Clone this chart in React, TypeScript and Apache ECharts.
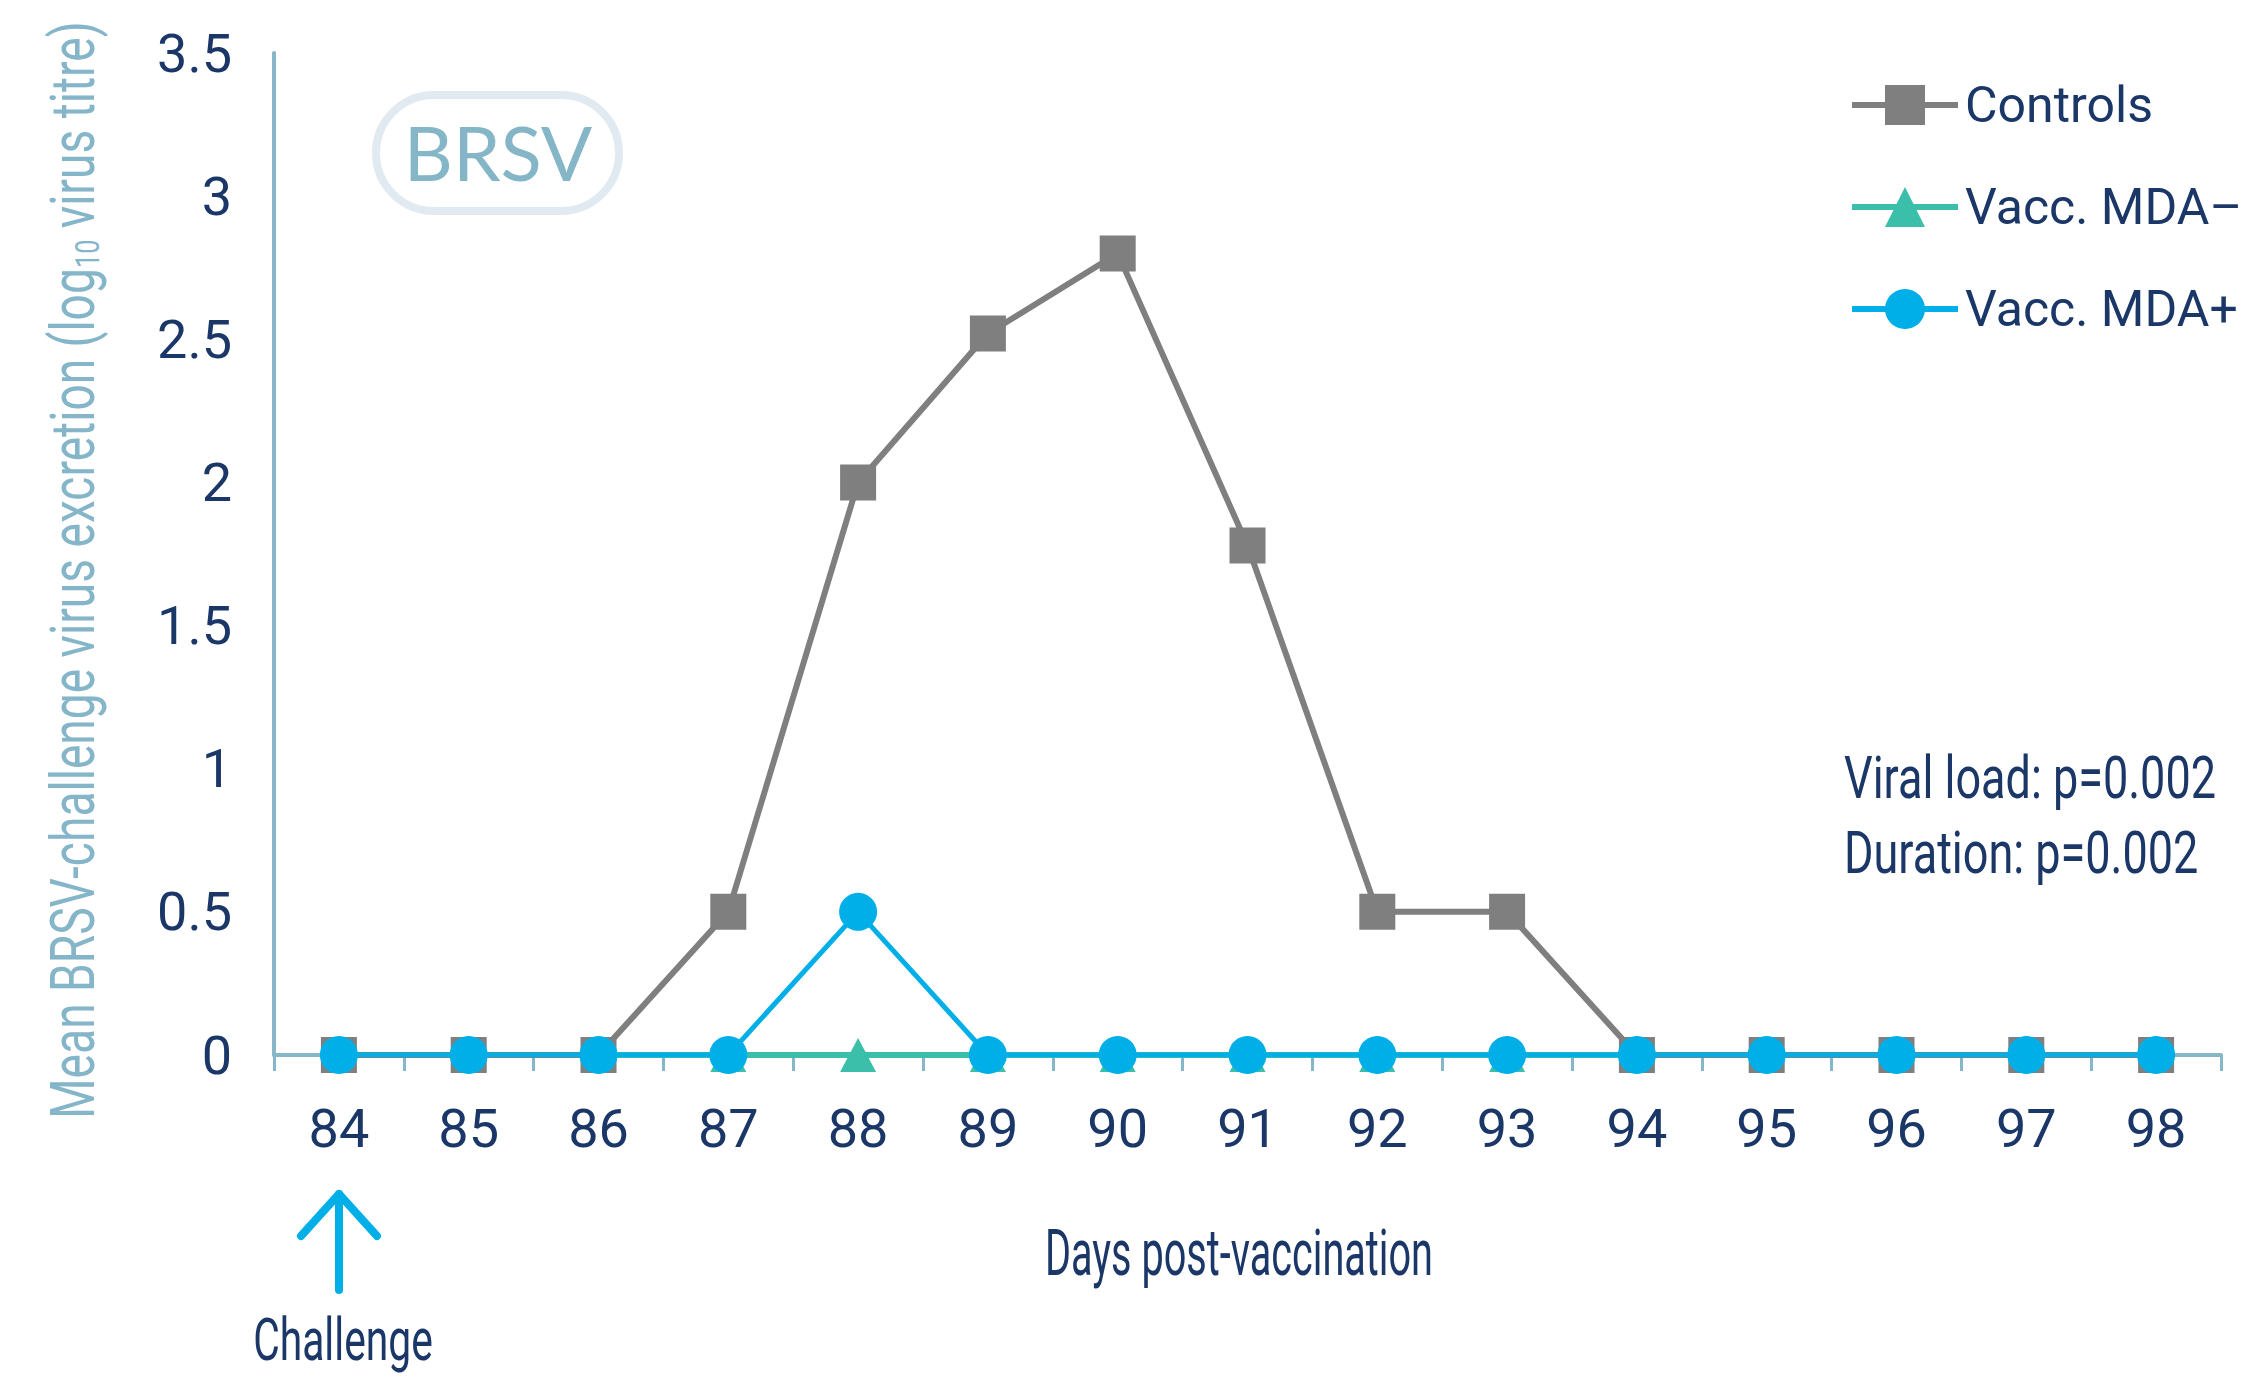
import React, { useEffect, useRef } from "react";
import * as echarts from "echarts";

const days = ["84", "85", "86", "87", "88", "89", "90", "91", "92", "93", "94", "95", "96", "97", "98"];
const controls = [0, 0, 0, 0.5, 2.0, 2.52, 2.8, 1.78, 0.5, 0.5, 0, 0, 0, 0, 0];
const mdaNeg = [0, 0, 0, 0, 0, 0, 0, 0, 0, 0, 0, 0, 0, 0, 0];
const mdaPos = [0, 0, 0, 0, 0.5, 0, 0, 0, 0, 0, 0, 0, 0, 0, 0];
const seriesNames = ["Controls", "Vacc. MDA\u2013", "Vacc. MDA+"];
const annotations = ["Viral load: p=0.002", "Duration: p=0.002"];
const yTitle = "Mean BRSV-challenge virus excretion (log{sub|10} virus titre)";
const xTitle = "Days post-vaccination";
const challengeLabel = "Challenge";
const panelLabel = "BRSV";

const F = "Roboto, 'Liberation Sans', sans-serif";
const NAVY = "#1b3768";
const AXIS = "#86b7c9";
const GREY = "#7f7f7f";
const GREEN = "#3bbfab";
const BLUE = "#00afe8";
const TITLE = "#84b5c8";

export default function App() {
  const ref = useRef<HTMLDivElement>(null);
  useEffect(() => {
    document.body.style.margin = "0";
    const chart = echarts.init(ref.current!, null, { renderer: "svg" });
    chart.setOption({
      animation: false,
      backgroundColor: "#ffffff",
      grid: { left: 274, right: 41, top: 53, bottom: 323, outerBoundsMode: "none", containLabel: false },
      legend: {
        orient: "vertical",
        left: 1844,
        top: 72,
        itemWidth: 106,
        itemHeight: 50,
        itemGap: 46,
        lineStyle: { width: 6 },
        textStyle: { fontFamily: F, fontSize: 50, lineHeight: 56, color: NAVY, padding: [0, 0, 0, 2] },
        data: seriesNames,
      },
      xAxis: {
        type: "category",
        data: days,
        boundaryGap: true,
        axisLine: { lineStyle: { color: AXIS, width: 4 } },
        axisTick: { show: true, length: 16, inside: false, lineStyle: { color: AXIS, width: 3 } },
        axisLabel: { fontFamily: F, fontSize: 54, color: NAVY, margin: 46 },
      },
      yAxis: {
        type: "value",
        min: 0,
        max: 3.5,
        interval: 0.5,
        splitLine: { show: false },
        axisLine: { show: true, lineStyle: { color: AXIS, width: 4 } },
        axisTick: { show: false },
        axisLabel: { fontFamily: F, fontSize: 54, color: NAVY, margin: 42 },
      },
      series: [
        {
          name: seriesNames[0],
          type: "line",
          data: controls,
          symbol: "rect",
          symbolSize: 36,
          itemStyle: { color: GREY },
          lineStyle: { color: GREY, width: 6 },
          z: 3,
        },
        {
          name: seriesNames[1],
          type: "line",
          data: mdaNeg,
          symbol: "triangle",
          symbolSize: [36, 34],
          itemStyle: { color: GREEN },
          lineStyle: { color: GREEN, width: 6 },
          z: 2,
        },
        {
          name: seriesNames[2],
          type: "line",
          data: mdaPos,
          symbol: "circle",
          symbolSize: 38,
          itemStyle: { color: BLUE },
          lineStyle: { color: BLUE, width: 5 },
          z: 4,
        },
      ],
      graphic: [
        {
          type: "text",
          x: 72,
          y: 570,
          rotation: Math.PI / 2,
          scaleX: 0.744,
          style: {
            text: yTitle,
            fontFamily: F,
            fontSize: 62,
            lineHeight: 64,
            fill: TITLE,
            align: "center",
            verticalAlign: "middle",
            rich: {
              sub: { fontFamily: F, fontSize: 34, lineHeight: 34, verticalAlign: "bottom", fill: TITLE },
            },
          },
        },
        {
          type: "text",
          x: 1239,
          y: 1253,
          scaleX: 0.62,
          style: { text: xTitle, fontFamily: F, fontSize: 64, fill: NAVY, align: "center", verticalAlign: "middle" },
        },
        {
          type: "rect",
          shape: { x: 376, y: 95, width: 243, height: 116, r: 58 },
          style: { fill: "none", stroke: "#e1eaf0", lineWidth: 8 },
        },
        {
          type: "text",
          x: 498,
          y: 151,
          style: {
            text: panelLabel,
            fontFamily: "Lato, 'Noto Sans', sans-serif",
            fontSize: 76,
            fill: "#84b6c7",
            align: "center",
            verticalAlign: "middle",
          },
        },
        {
          type: "text",
          x: 1844,
          y: 778,
          scaleX: 0.75,
          style: { text: annotations[0], fontFamily: F, fontSize: 60, fill: NAVY, verticalAlign: "middle" },
        },
        {
          type: "text",
          x: 1844,
          y: 853,
          scaleX: 0.75,
          style: { text: annotations[1], fontFamily: F, fontSize: 60, fill: NAVY, verticalAlign: "middle" },
        },
        {
          type: "line",
          shape: { x1: 339, y1: 1194, x2: 339, y2: 1290 },
          style: { stroke: BLUE, lineWidth: 8, lineCap: "round" },
        },
        {
          type: "polyline",
          shape: { points: [[301, 1236], [339, 1194], [377, 1236]] },
          style: { stroke: BLUE, lineWidth: 8, lineCap: "round", lineJoin: "round", fill: "none" },
        },
        {
          type: "text",
          x: 343,
          y: 1340,
          scaleX: 0.68,
          style: { text: challengeLabel, fontFamily: F, fontSize: 60, fill: NAVY, align: "center", verticalAlign: "middle" },
        },
      ],
    });
    return () => chart.dispose();
  }, []);
  return <div ref={ref} style={{ width: 2262, height: 1378 }} />;
}
